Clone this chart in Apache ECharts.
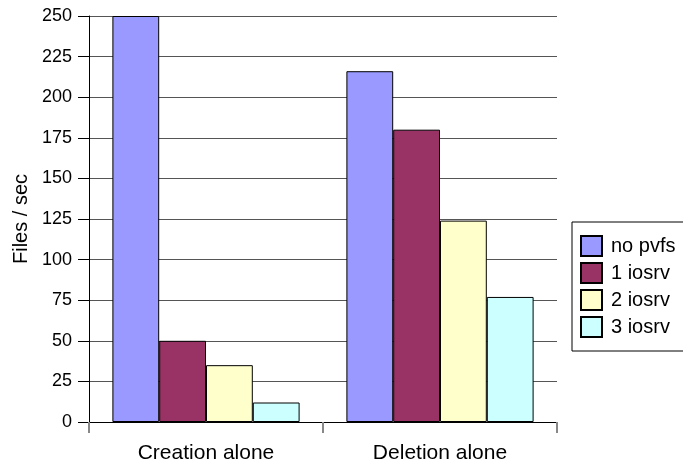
<!DOCTYPE html>
<html>
<head>
<meta charset="utf-8">
<script src="https://cdn.jsdelivr.net/npm/echarts@6/dist/echarts.min.js"></script>
<style>
  html, body { margin: 0; padding: 0; background: #fff; }
  #chart { width: 683px; height: 472px; }
</style>
</head>
<body>
<div id="chart"></div>
<script>
// Metadata operation throughput, files per second
const categories = ['Creation alone', 'Deletion alone'];
const seriesNames = ['no pvfs', '1 iosrv', '2 iosrv', '3 iosrv'];
const noPvfs = [250, 216];
const ioSrv1 = [50, 180];
const ioSrv2 = [35, 124];
const ioSrv3 = [12, 77];
const yTicks = [0, 25, 50, 75, 100, 125, 150, 175, 200, 225, 250];

const colors = ['#9999ff', '#993366', '#ffffcc', '#ccffff'];
const values = [noPvfs, ioSrv1, ioSrv2, ioSrv3];
const FONT = '"Liberation Sans", Arial, sans-serif';

const chart = echarts.init(document.getElementById('chart'), null, { renderer: 'canvas' });

chart.setOption({
  animation: false,
  backgroundColor: '#ffffff',
  textStyle: { fontFamily: FONT },
  grid: { left: 89, right: 126, top: 16, bottom: 50, containLabel: false },
  legend: {
    orient: 'vertical',
    left: 572,
    top: 222,
    padding: [13, 10, 13, 8],
    itemWidth: 21,
    itemHeight: 20,
    itemGap: 5,
    icon: 'rect',
    borderColor: '#000',
    borderWidth: 1,
    backgroundColor: '#fff',
    data: seriesNames,
    textStyle: { fontFamily: FONT, fontSize: 20, color: '#000', padding: [0, 0, 0, 4] }
  },
  xAxis: {
    type: 'category',
    data: categories,
    axisLine: { lineStyle: { color: '#000', width: 1 } },
    axisTick: { show: true, length: 11, lineStyle: { color: '#888', width: 2 } },
    axisLabel: { fontFamily: FONT, fontSize: 21, color: '#000', margin: 21 },
    splitLine: { show: false }
  },
  yAxis: {
    type: 'value',
    min: yTicks[0],
    max: yTicks[yTicks.length - 1],
    interval: yTicks[1] - yTicks[0],
    name: 'Files / sec',
    nameLocation: 'middle',
    nameGap: 57,
    nameTextStyle: { fontFamily: FONT, fontSize: 20, color: '#000' },
    axisLine: { show: true, lineStyle: { color: '#000', width: 1 } },
    axisTick: { show: true, length: 11, lineStyle: { color: '#000' } },
    axisLabel: { fontFamily: FONT, fontSize: 18, color: '#000', margin: 17 },
    splitLine: { show: true, lineStyle: { color: '#555', width: 1 } }
  },
  series: seriesNames.map((name, i) => ({
    name: name,
    type: 'bar',
    data: values[i],
    barGap: '0%',
    barCategoryGap: '20%',
    itemStyle: { color: colors[i], borderColor: '#000', borderWidth: 1 }
  }))
});
</script>
</body>
</html>
